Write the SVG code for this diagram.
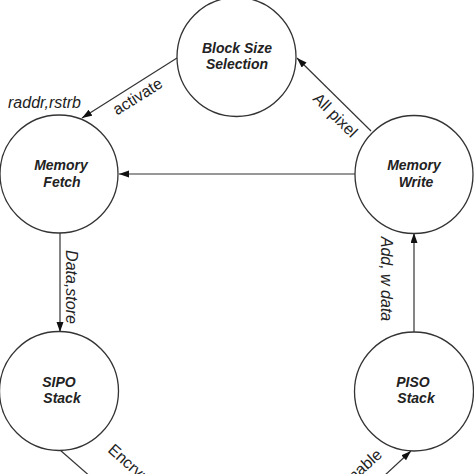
<svg xmlns="http://www.w3.org/2000/svg" width="474" height="474" viewBox="0 0 474 474">
<style>
.node{fill:#fff;stroke:#333;stroke-width:1.3}
.nl{font-family:"Liberation Sans",Arial,sans-serif;font-size:14px;font-weight:bold;font-style:italic;fill:#222;text-anchor:middle}
.edge{stroke:#333;stroke-width:1.2;fill:none}
.el{font-family:"Liberation Sans",Arial,sans-serif;font-size:16px;fill:#222}
.it{font-style:italic}
</style>
<defs>
<marker id="ah" markerUnits="userSpaceOnUse" markerWidth="11" markerHeight="8" refX="10" refY="3.5" orient="auto">
<path d="M0,0 L10,3.5 L0,7 z" fill="#111"/>
</marker>
</defs>
<rect width="474" height="474" fill="#fff"/>
<g id="connectors">
<line class="edge" x1="177" y1="58" x2="82" y2="118" marker-end="url(#ah)"/>
<line class="edge" x1="371" y1="131" x2="297" y2="58" marker-end="url(#ah)"/>
<line class="edge" x1="355" y1="174" x2="119" y2="174" marker-end="url(#ah)"/>
<line class="edge" x1="60" y1="233" x2="60" y2="332" marker-end="url(#ah)"/>
<line class="edge" x1="414" y1="332" x2="414" y2="233" marker-end="url(#ah)"/>
<line class="edge" x1="60" y1="450" x2="92" y2="478"/>
<line class="edge" x1="384" y1="476" x2="411" y2="451" marker-end="url(#ah)"/>
<text class="el it" x="8" y="108">raddr,rstrb</text>
<text class="el" x="140.5" y="101" text-anchor="middle" transform="rotate(-32 140.5 101)">activate</text>
<text class="el" x="331.5" y="119" text-anchor="middle" transform="rotate(45 331.5 119)">All pixel</text>
<text class="el it" x="66" y="287" text-anchor="middle" transform="rotate(90 66 287)">Data,store</text>
<text class="el it" x="380.5" y="279" text-anchor="middle" transform="rotate(90 380.5 279)">Add, w data</text>
<text class="el" x="107" y="451" transform="rotate(42 107 451)">Encryption</text>
<text class="el" x="383" y="456" text-anchor="end" transform="rotate(-42 383 456)">Enable</text>
</g>
<g id="block-size-selection">
<circle class="node" cx="236.5" cy="57" r="59.5"/>
<text class="nl" x="237" y="53">Block Size</text>
<text class="nl" x="237" y="69">Selection</text>
</g>
<g id="memory-fetch">
<circle class="node" cx="59" cy="174" r="59"/>
<text class="nl" x="61" y="170">Memory</text>
<text class="nl" x="62" y="187">Fetch</text>
</g>
<g id="memory-write">
<circle class="node" cx="414" cy="174.5" r="59"/>
<text class="nl" x="414" y="170">Memory</text>
<text class="nl" x="416" y="187">Write</text>
</g>
<g id="sipo-stack">
<circle class="node" cx="59" cy="391" r="59.5"/>
<text class="nl" x="59" y="387">SIPO</text>
<text class="nl" x="62" y="403">Stack</text>
</g>
<g id="piso-stack">
<circle class="node" cx="414" cy="391.5" r="59.5"/>
<text class="nl" x="413" y="387">PISO</text>
<text class="nl" x="416" y="403">Stack</text>
</g>
</svg>
